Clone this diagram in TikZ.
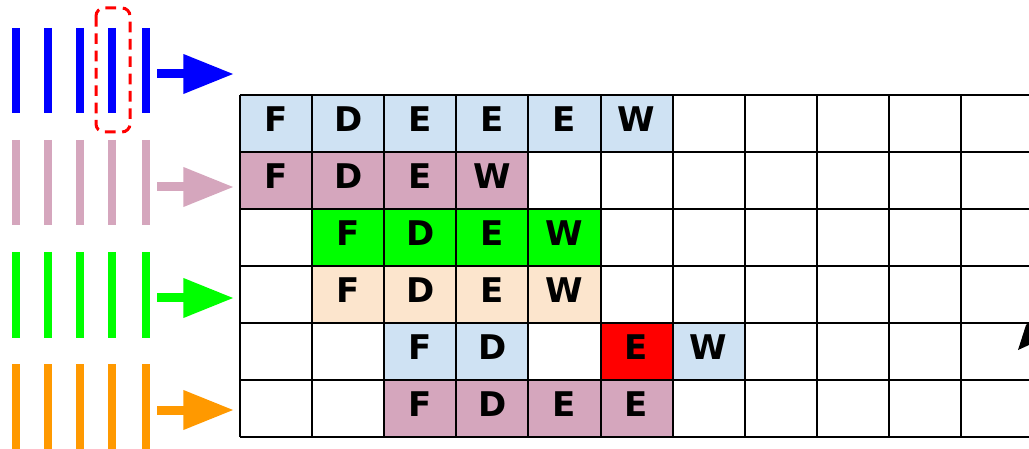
\documentclass[tikz,border=0pt]{standalone}
\usepackage{fontspec}
\setmainfont{Liberation Sans}
\newfontfamily\cellfont{DejaVu Sans}
\usepackage{tikz}
\usetikzlibrary{arrows.meta}
\definecolor{PipeBlue}{HTML}{0000FF}
\definecolor{PipePink}{HTML}{D5A6BD}
\definecolor{PipeGreen}{HTML}{00FF00}
\definecolor{PipeOrange}{HTML}{FF9900}
\definecolor{CellBlue}{HTML}{CFE2F3}
\definecolor{CellPeach}{HTML}{FCE5CD}
\definecolor{CellRed}{HTML}{FF0000}
\tikzset{
  cell/.style={rectangle,inner sep=0pt,minimum width=54.1pt,minimum height=42.75pt,
    text height=18.5pt,text depth=6pt,font=\cellfont\fontsize{25.5}{30}\selectfont\bfseries},
  stagebar/.style={line width=6pt},
  feed/.style={line width=6.75pt,-{Triangle[length=38pt,width=28pt]}},
  gridline/.style={line width=1.5pt,black},
}

\begin{document}
\begin{tikzpicture}[x=0.75pt,y=-0.75pt]
\useasboundingbox (0,0) rectangle (1029,449);
\clip (0,0) rectangle (1029,449);
% pipeline stages
\draw[stagebar,PipeBlue] (16,28) -- (16,113) (48,28) -- (48,113) (80,28) -- (80,113) (112,28) -- (112,113) (146,28) -- (146,113);
\draw[stagebar,PipePink] (16,140) -- (16,225) (48,140) -- (48,225) (80,140) -- (80,225) (112,140) -- (112,225) (146,140) -- (146,225);
\draw[stagebar,PipeGreen] (16,252) -- (16,338) (48,252) -- (48,338) (80,252) -- (80,338) (112,252) -- (112,338) (146,252) -- (146,338);
\draw[stagebar,PipeOrange] (16,364) -- (16,449) (48,364) -- (48,449) (80,364) -- (80,449) (112,364) -- (112,449) (146,364) -- (146,449);
\draw[red,line width=2.25pt,dash pattern=on 8pt off 5pt,rounded corners=6pt] (96,8) rectangle (130,132);
% feed arrows
\coordinate (blueout) at (157,74);
\coordinate (bluein) at (234,74);
\coordinate (pinkout) at (157,187);
\coordinate (pinkin) at (234,187);
\coordinate (greenout) at (157,298);
\coordinate (greenin) at (234,298);
\coordinate (orangeout) at (157,410);
\coordinate (orangein) at (234,410);
\draw[feed,PipeBlue] (blueout) -- (bluein);
\draw[feed,PipePink] (pinkout) -- (pinkin);
\draw[feed,PipeGreen] (greenout) -- (greenin);
\draw[feed,PipeOrange] (orangeout) -- (orangein);
% row 1
\node[cell,fill=CellBlue] (a1) at (276.05,123.5) {F};
\node[cell,fill=CellBlue] (a2) at (348.15,123.5) {D};
\node[cell,fill=CellBlue] (a3) at (420.25,123.5) {E};
\node[cell,fill=CellBlue] (a4) at (492.35,123.5) {E};
\node[cell,fill=CellBlue] (a5) at (564.45,123.5) {E};
\node[cell,fill=CellBlue] (a6) at (636.55,123.5) {W};
% row 2
\node[cell,fill=PipePink] (b1) at (276.05,180.5) {F};
\node[cell,fill=PipePink] (b2) at (348.15,180.5) {D};
\node[cell,fill=PipePink] (b3) at (420.25,180.5) {E};
\node[cell,fill=PipePink] (b4) at (492.35,180.5) {W};
% row 3
\node[cell,fill=PipeGreen] (c2) at (348.15,237.5) {F};
\node[cell,fill=PipeGreen] (c3) at (420.25,237.5) {D};
\node[cell,fill=PipeGreen] (c4) at (492.35,237.5) {E};
\node[cell,fill=PipeGreen] (c5) at (564.45,237.5) {W};
% row 4
\node[cell,fill=CellPeach] (d2) at (348.15,294.5) {F};
\node[cell,fill=CellPeach] (d3) at (420.25,294.5) {D};
\node[cell,fill=CellPeach] (d4) at (492.35,294.5) {E};
\node[cell,fill=CellPeach] (d5) at (564.45,294.5) {W};
% row 5
\node[cell,fill=CellBlue] (e3) at (420.25,351.5) {F};
\node[cell,fill=CellBlue] (e4) at (492.35,351.5) {D};
\node[cell,fill=CellRed] (e6) at (636.55,351.5) {E};
\node[cell,fill=CellBlue] (e7) at (708.65,351.5) {W};
% row 6
\node[cell,fill=PipePink] (f3) at (420.25,408.5) {F};
\node[cell,fill=PipePink] (f4) at (492.35,408.5) {D};
\node[cell,fill=PipePink] (f5) at (564.45,408.5) {E};
\node[cell,fill=PipePink] (f6) at (636.55,408.5) {E};
% grid
\draw[gridline] (240,95) -- (1029,95) (240,152) -- (1029,152) (240,209) -- (1029,209)
  (240,266) -- (1029,266) (240,323) -- (1029,323) (240,380) -- (1029,380) (240,437) -- (1029,437);
\draw[gridline] (240,95) -- (240,437) (312.1,95) -- (312.1,437) (384.2,95) -- (384.2,437)
  (456.3,95) -- (456.3,437) (528.4,95) -- (528.4,437) (600.5,95) -- (600.5,437)
  (672.6,95) -- (672.6,437) (744.7,95) -- (744.7,437) (816.8,95) -- (816.8,437)
  (888.9,95) -- (888.9,437) (961,95) -- (961,437);
% clipped pointer
\fill[black] (1018,350) -- (1026,325) -- (1029,322) -- (1029,345) -- cycle;
\end{tikzpicture}
\end{document}
